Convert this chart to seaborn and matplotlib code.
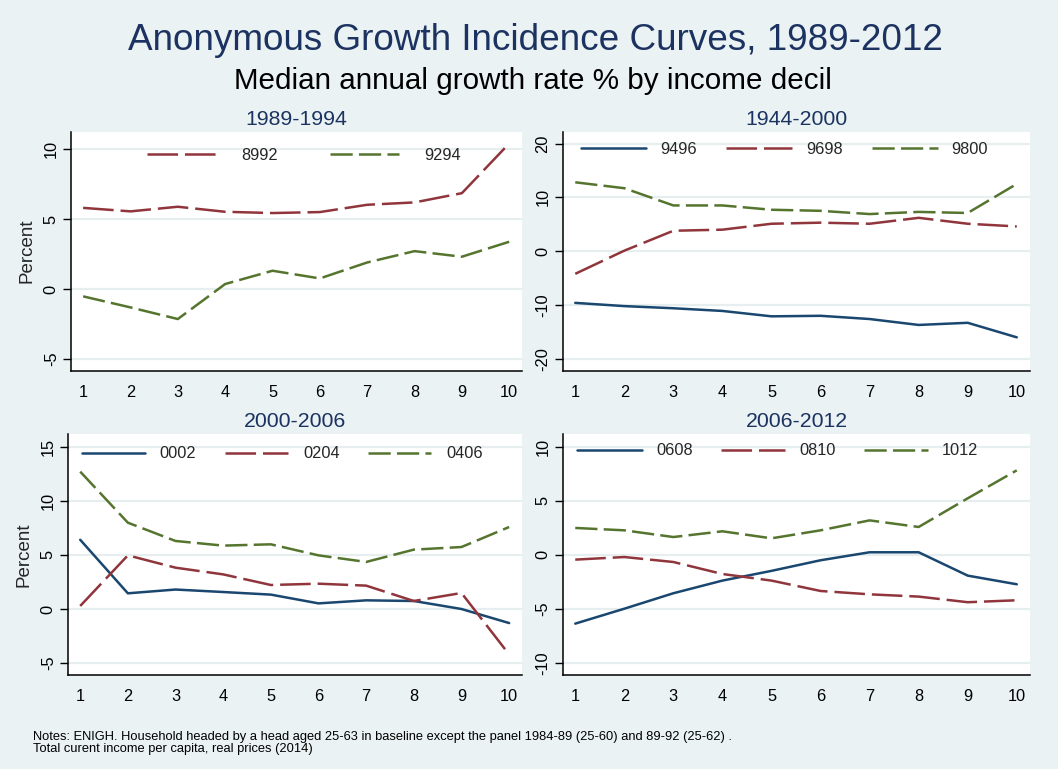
import numpy as np
import pandas as pd
import matplotlib
matplotlib.use('Agg')
import matplotlib.pyplot as plt
import seaborn as sns

# ------------------------------------------------------------
# Data: median annual growth rate (%) by income decile
# ------------------------------------------------------------
deciles = list(range(1, 11))

# panel 1989-1994
g8992 = [5.8, 5.55, 5.88, 5.52, 5.43, 5.5, 6.02, 6.19, 6.85, 10.4]
g9294 = [-0.52, -1.31, -2.14, 0.36, 1.31, 0.76, 1.9, 2.71, 2.31, 3.38]

# panel 1944-2000
g9496 = [-9.6, -10.2, -10.6, -11.1, -12.1, -12.0, -12.6, -13.7, -13.3, -16.0]
g9698 = [-4.2, 0.1, 3.8, 4.0, 5.1, 5.3, 5.1, 6.2, 5.1, 4.6]
g9800 = [12.8, 11.7, 8.5, 8.5, 7.7, 7.5, 6.9, 7.3, 7.1, 12.5]

# panel 2000-2006
g0002 = [6.4, 1.45, 1.8, 1.57, 1.33, 0.52, 0.8, 0.74, 0.0, -1.3]
g0204 = [0.28, 4.96, 3.82, 3.2, 2.22, 2.34, 2.16, 0.74, 1.48, -4.2]
g0406 = [12.7, 7.98, 6.29, 5.86, 5.98, 4.96, 4.35, 5.49, 5.73, 7.58]

# panel 2006-2012
g0608 = [-6.38, -5.0, -3.57, -2.4, -1.5, -0.52, 0.22, 0.22, -1.94, -2.74]
g0810 = [-0.46, -0.22, -0.68, -1.79, -2.4, -3.36, -3.67, -3.88, -4.4, -4.22]
g1012 = [2.47, 2.25, 1.63, 2.16, 1.51, 2.25, 3.17, 2.56, 5.21, 7.8]

panel_titles = ['1989-1994', '1944-2000', '2000-2006', '2006-2012']

# ------------------------------------------------------------
# Style (Stata s2color look)
# ------------------------------------------------------------
sns.set_theme(style='white')
plt.rcParams['font.family'] = ['Liberation Sans', 'DejaVu Sans']
plt.rcParams['lines.scale_dashes'] = False

BG = '#eaf2f3'
GRID = '#e6eef0'
NAVY = '#1a476f'
MAROON = '#90353b'
GREEN = '#55752f'
TITLE_COL = '#1c3361'

SOLID = '-'
LONGDASH = (0, (22, 5))
DASH = (0, (16, 4.5))

W, H = 1058, 769
fig = plt.figure(figsize=(W / 100, H / 100), dpi=100, facecolor=BG)


def rect(left, top, right, bottom):
    return [left / W, 1 - bottom / H, (right - left) / W, (bottom - top) / H]


panels = [
    dict(rect=rect(71.3, 131.7, 522, 370.7), ylim=(-5.83, 11.24), yticks=[-5, 0, 5, 10],
         series=[('8992', g8992, MAROON, LONGDASH), ('9294', g9294, GREEN, DASH)],
         leg=dict(x=0.168, y=1 - 16 / 239, hlen=4.2, textpad=1.55, colspace=3.2), ylabel=True),
    dict(rect=rect(563, 131.7, 1030, 370.7), ylim=(-22.2, 22.2), yticks=[-20, -10, 0, 10, 20],
         series=[('9496', g9496, NAVY, SOLID), ('9698', g9698, MAROON, LONGDASH),
                 ('9800', g9800, GREEN, DASH)],
         leg=dict(x=0.038, y=1 - 10.5 / 239, hlen=4.0, textpad=0.85, colspace=1.8), ylabel=False),
    dict(rect=rect(68.3, 434, 522, 675.3), ylim=(-6.13, 16.18), yticks=[-5, 0, 5, 10, 15],
         series=[('0002', g0002, NAVY, SOLID), ('0204', g0204, MAROON, LONGDASH),
                 ('0406', g0406, GREEN, DASH)],
         leg=dict(x=0.03, y=1 - 12.5 / 241.3, hlen=3.85, textpad=0.9, colspace=1.75), ylabel=True),
    dict(rect=rect(563, 434, 1030, 675.3), ylim=(-11.16, 11.16), yticks=[-10, -5, 0, 5, 10],
         series=[('0608', g0608, NAVY, SOLID), ('0810', g0810, MAROON, LONGDASH),
                 ('1012', g1012, GREEN, DASH)],
         leg=dict(x=0.031, y=1 - 9.5 / 241.3, hlen=3.95, textpad=0.85, colspace=1.7), ylabel=False),
]

for p, ptitle in zip(panels, panel_titles):
    ax = fig.add_axes(p['rect'])
    ax.set_facecolor('white')
    for name, vals, col, ls in p['series']:
        sns.lineplot(x=deciles, y=vals, ax=ax, color=col, linestyle=ls,
                     linewidth=1.8, label=name)

    ax.set_xlim(0.75, 10.27)
    ax.set_ylim(*p['ylim'])
    ax.set_xticks(deciles)
    ax.set_yticks(p['yticks'])
    ax.set_yticklabels([str(t) for t in p['yticks']], rotation=90, va='center')
    ax.grid(axis='y', color=GRID, linewidth=1.6)
    ax.grid(axis='x', visible=False)
    ax.set_axisbelow(True)

    for side in ['top', 'right']:
        ax.spines[side].set_visible(False)
    for side in ['left', 'bottom']:
        ax.spines[side].set_color('black')
        ax.spines[side].set_linewidth(1.1)
    ax.tick_params(axis='both', direction='out', length=6, width=1.0,
                   color='black', labelsize=11.8, labelcolor='black')
    ax.tick_params(axis='x', pad=4)
    ax.tick_params(axis='y', pad=3, left=True)

    ax.set_xlabel('')
    ax.set_ylabel('Percent' if p['ylabel'] else '', fontsize=13.5, labelpad=6)
    ax.set_title(ptitle, fontsize=15.3, color=TITLE_COL, pad=5)

    lg = p['leg']
    ax.legend(loc='upper left', bbox_to_anchor=(lg['x'], lg['y']), ncol=len(p['series']),
              frameon=False, fontsize=11.8, handlelength=lg['hlen'],
              handletextpad=lg['textpad'], columnspacing=lg['colspace'],
              borderpad=0, borderaxespad=0)

fig.text(0.5 + 6 / W, 1 - 40 / H, 'Anonymous Growth Incidence Curves, 1989-2012',
         ha='center', va='center', fontsize=26.6, color=TITLE_COL)
fig.text(0.5 + 4 / W, 1 - 81 / H, 'Median annual growth rate % by income decil',
         ha='center', va='center', fontsize=21.3, color='black')

notes = ('Notes: ENIGH. Household headed by a head aged 25-63 in baseline except the panel '
         '1984-89 (25-60) and 89-92 (25-62) .\nTotal curent income per capita, real prices (2014)')
fig.text(33 / W, 1 - 731 / H, notes, ha='left', va='top', fontsize=9.3, linespacing=1.05,
         family=['Liberation Sans Narrow', 'Liberation Sans', 'DejaVu Sans'], color='black')

fig.savefig('out.png', dpi=100, facecolor=BG)
